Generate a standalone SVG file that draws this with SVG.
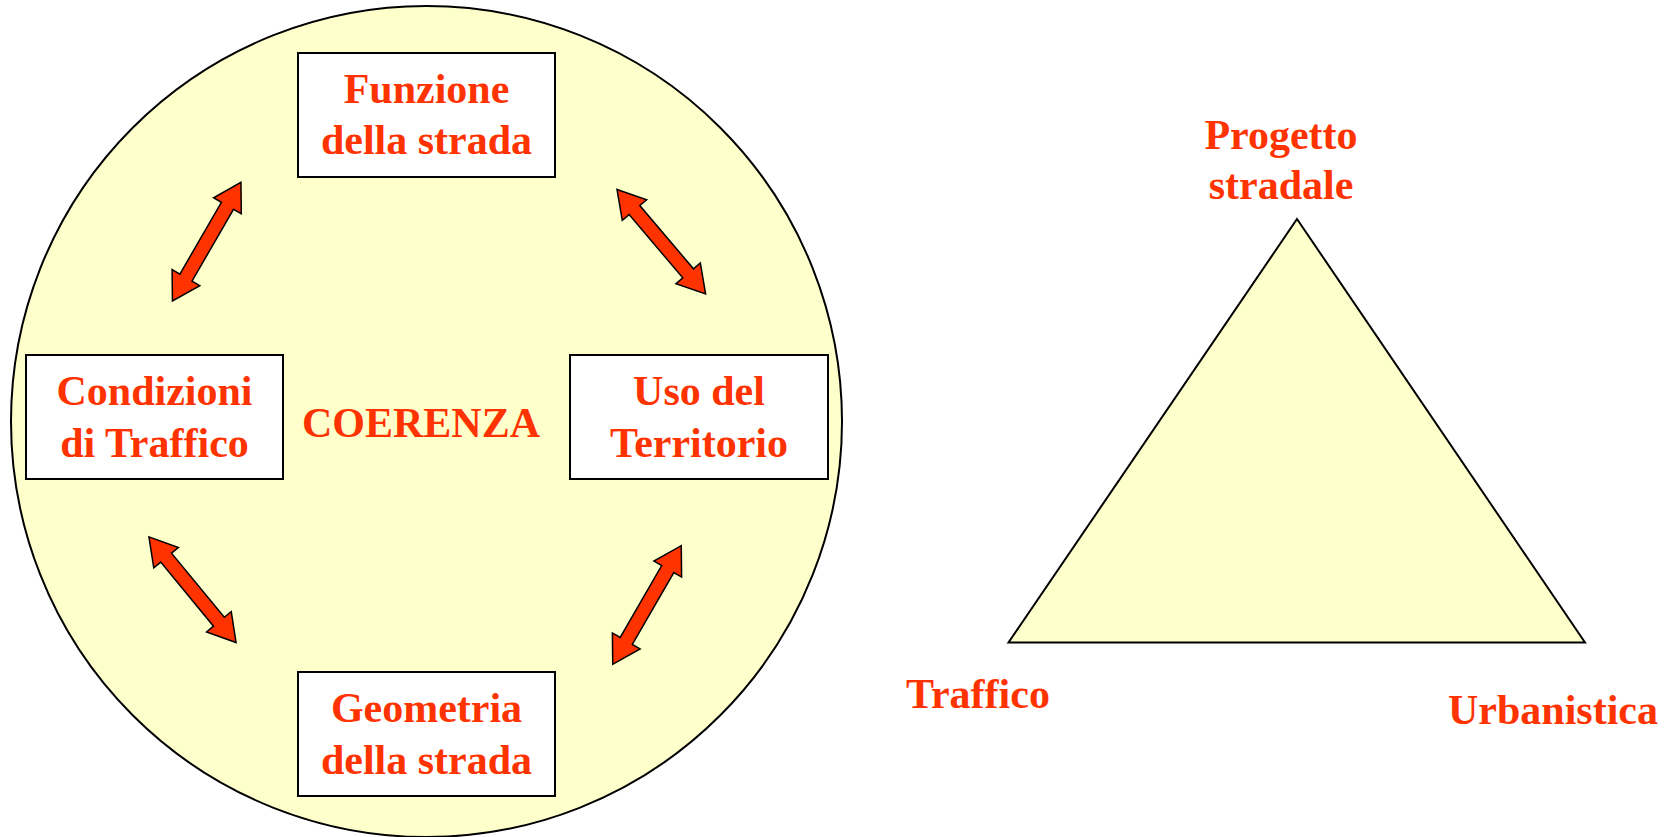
<svg xmlns="http://www.w3.org/2000/svg" width="1668" height="837" viewBox="0 0 1668 837">
<style>
.t{font-family:"Liberation Serif","Times New Roman",serif;font-weight:bold;font-size:42px;fill:#FF3300;text-anchor:middle}
.box{fill:#FFFFFF;stroke:#000000;stroke-width:2}
.shape{fill:#FFFFCC;stroke:#000000;stroke-width:2}
.arr{fill:#FF3300;stroke:#000000;stroke-width:1.5;stroke-linejoin:miter}
</style>
<defs>
<path id="dblarrow" class="arr" d="M -68.5 0 L -41.5 -16 L -41.5 -7 L 41.5 -7 L 41.5 -16 L 68.5 0 L 41.5 16 L 41.5 7 L -41.5 7 L -41.5 16 Z"/>
</defs>
<rect x="0" y="0" width="1668" height="837" fill="#FFFFFF"/>
<g id="circle">
<circle class="shape" cx="426.5" cy="421.5" r="415.5"/>
</g>
<g id="coerenza">
<text class="t" x="421" y="437">COERENZA</text>
</g>
<g id="funzione">
<rect class="box" x="298" y="53" width="257" height="124"/>
<text class="t" x="426.5" y="103">Funzione</text>
<text class="t" x="426.5" y="154">della strada</text>
</g>
<g id="condizioni">
<rect class="box" x="26" y="355" width="257" height="124"/>
<text class="t" x="154.5" y="405">Condizioni</text>
<text class="t" x="154.5" y="457">di Traffico</text>
</g>
<g id="uso">
<rect class="box" x="570" y="355" width="258" height="124"/>
<text class="t" x="699" y="405">Uso del</text>
<text class="t" x="699" y="457">Territorio</text>
</g>
<g id="geometria">
<rect class="box" x="298" y="672" width="257" height="124"/>
<text class="t" x="426.5" y="722">Geometria</text>
<text class="t" x="426.5" y="774">della strada</text>
</g>
<g id="connectors">
<use href="#dblarrow" transform="translate(206.7,241.7) rotate(-60)"/>
<use href="#dblarrow" transform="translate(661.3,241.7) rotate(49.7)"/>
<use href="#dblarrow" transform="translate(192.5,589.7) rotate(50.5)"/>
<use href="#dblarrow" transform="translate(647,605) rotate(-60)"/>
</g>
<g id="triangle">
<polygon class="shape" points="1297,219 1585,642.5 1008.5,642.5"/>
</g>
<g id="progetto">
<text class="t" x="1281" y="149">Progetto</text>
<text class="t" x="1281" y="199">stradale</text>
</g>
<g id="traffico">
<text class="t" x="978" y="708">Traffico</text>
</g>
<g id="urbanistica">
<text class="t" x="1553" y="724">Urbanistica</text>
</g>
</svg>
